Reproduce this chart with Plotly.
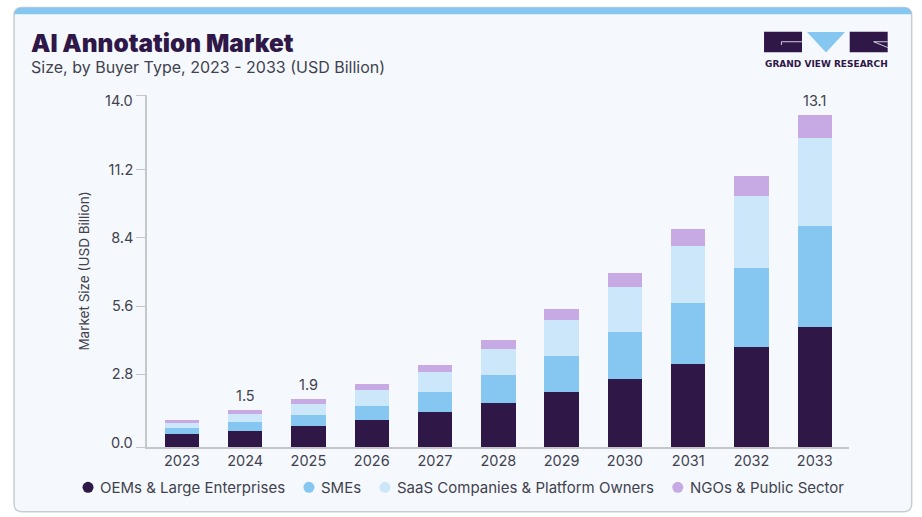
import plotly.graph_objects as go

years = ["2023", "2024", "2025", "2026", "2027", "2028", "2029", "2030", "2031", "2032", "2033"]
oems = [0.50, 0.65, 0.83, 1.07, 1.39, 1.75, 2.19, 2.70, 3.32, 3.99, 4.79]
smes = [0.24, 0.33, 0.45, 0.58, 0.79, 1.11, 1.43, 1.88, 2.42, 3.13, 4.00]
saas = [0.21, 0.33, 0.45, 0.62, 0.79, 1.03, 1.43, 1.78, 2.27, 2.85, 3.49]
ngos = [0.13, 0.16, 0.19, 0.23, 0.31, 0.38, 0.42, 0.56, 0.65, 0.82, 0.94]
total_labels = ["", "1.5", "1.9", "", "", "", "", "", "", "", "13.1"]
tick_positions = [0, 2.9, 5.6, 8.32, 11.02, 14]
tick_labels = ["", "2.8", "5.6", "8.4", "11.2", ""]

names = ["OEMs & Large Enterprises", "SMEs", "SaaS Companies & Platform Owners", "NGOs & Public Sector"]
colors = ["#2f1748", "#86c7f1", "#cbe7f9", "#c7a9e3"]
series = [oems, smes, saas, ngos]

FONT = "Inter"
TEXT = "#42424e"
W, H = 922, 517
L, R, T, B = 147, 849.3, 95, 447.3


# page pixels -> paper coordinates, only used for the card, logo and legend
def px(x):
    return (x - L) / (R - L)


def py(y):
    return (B - y) / (B - T)


def path(points, close=True):
    d = "M" + " L".join(f"{px(x):.5f},{py(y):.5f}" for x, y in points)
    return d + (" Z" if close else "")


def card_path(x0, y0, x1, y1, r):
    return (f"M{px(x0 + r):.5f},{py(y0):.5f} L{px(x1 - r):.5f},{py(y0):.5f} "
            f"Q{px(x1):.5f},{py(y0):.5f} {px(x1):.5f},{py(y0 + r):.5f} "
            f"L{px(x1):.5f},{py(y1 - r):.5f} Q{px(x1):.5f},{py(y1):.5f} {px(x1 - r):.5f},{py(y1):.5f} "
            f"L{px(x0 + r):.5f},{py(y1):.5f} Q{px(x0):.5f},{py(y1):.5f} {px(x0):.5f},{py(y1 - r):.5f} "
            f"L{px(x0):.5f},{py(y0 + r):.5f} Q{px(x0):.5f},{py(y0):.5f} {px(x0 + r):.5f},{py(y0):.5f} Z")


def page_text(text, x, y, size, color=TEXT, anchor="left", weight=400, family=FONT):
    return dict(text=text, x=px(x), y=py(y), xref="paper", yref="paper", xanchor=anchor, yanchor="middle",
                showarrow=False, font=dict(family=family, size=size, color=color, weight=weight))


fig = go.Figure()
for name, values, color in zip(names, series, colors):
    fig.add_trace(go.Bar(x=years, y=values, name=name, marker=dict(color=color, line=dict(width=0)),
                         showlegend=False))

shapes = [
    # card
    dict(type="path", path=card_path(14, 7.5, 912, 512, 8), fillcolor="#f5f9fd",
         line=dict(color="#c9cdd2", width=1.5)),
    dict(type="path", path=(f"M{px(14):.5f},{py(14.3):.5f} L{px(14):.5f},{py(15.5):.5f} Q{px(14):.5f},{py(7.5):.5f} {px(22):.5f},{py(7.5):.5f} "
                            f"L{px(904):.5f},{py(7.5):.5f} Q{px(912):.5f},{py(7.5):.5f} {px(912):.5f},{py(15.5):.5f} L{px(912):.5f},{py(14.3):.5f} Z"),
         fillcolor="#86c7f1", line=dict(width=0)),
    # logo
    dict(type="path", path=path([(764.3, 31.7), (802.3, 31.7), (802.3, 52.3), (764.3, 52.3)]),
         fillcolor="#2f1748", line=dict(width=0)),
    dict(type="path", path=path([(807.3, 32), (845.3, 32), (826.3, 52.5)]),
         fillcolor="#86c7f1", line=dict(width=0)),
    dict(type="path", path=path([(850, 31.7), (888, 31.7), (888, 52.3), (850, 52.3)]),
         fillcolor="#2f1748", line=dict(width=0)),
    dict(type="path", path=path([(781.7, 45), (781.7, 41.7), (802.3, 41.7)], close=False),
         line=dict(color="#f5f9fd", width=0.8)),
    dict(type="path", path=path([(888, 41.7), (874, 41.7), (888, 47.5)], close=False),
         line=dict(color="#f5f9fd", width=0.8)),
]

annotations = [
    page_text("AI Annotation Market", 29, 43, 24.4, color="#2f1748", weight=900),
    page_text("Size, by Buyer Type, 2023 - 2033 (USD Billion)", 29, 66.5, 16),
    page_text("GRAND VIEW RESEARCH", 826.3, 63.5, 9, color="#2f1748", anchor="center", weight=700,
              family="DejaVu Sans"),
    # the end labels sit inside the axis span rather than level with their ticks
    page_text("14.0", 135, 101, 14.5, anchor="right"),
    page_text("0.0", 135, 443, 14.5, anchor="right"),
]

# totals printed above a few bars, x is the category index here
totals = [sum(v) for v in zip(*series)]
for i, (total, label) in enumerate(zip(totals, total_labels)):
    if label:
        annotations.append(dict(text=label, x=i, y=total, xref="x", yref="y", yanchor="bottom", showarrow=False,
                                yshift=4, font=dict(family=FONT, size=14.5, color=TEXT)))

# legend row, drawn so the round markers sit close to their text
legend_marker_x = [88, 309, 385, 678]
for name, color, mx in zip(names, colors, legend_marker_x):
    shapes.append(dict(type="circle", x0=px(mx - 5.5), x1=px(mx + 5.5), y0=py(482.2), y1=py(493.2),
                       fillcolor=color, line=dict(width=0)))
    annotations.append(page_text(name, mx + 10, 487.7, 15))

for s in shapes:
    s.update(xref="paper", yref="paper", layer="below")

fig.update_layout(
    width=W, height=H,
    barmode="stack", bargap=0.457,
    margin=dict(l=L, r=W - R, t=T, b=H - B, pad=0),
    paper_bgcolor="white", plot_bgcolor="rgba(0,0,0,0)",
    showlegend=False,
    shapes=shapes, annotations=annotations,
    font=dict(family=FONT, color=TEXT),
)
fig.update_xaxes(type="category", range=[-0.55, 10.54], showgrid=False, ticks="", showline=True,
                 linecolor="#c4c6c9", linewidth=1.5, tickfont=dict(family=FONT, size=14.5, color=TEXT), zeroline=False)
fig.update_yaxes(range=[0, 14], tickmode="array", tickvals=tick_positions, ticktext=tick_labels, showgrid=False,
                 zeroline=False, ticks="outside", ticklen=9, tickcolor="#c4c6c9", tickwidth=1, showline=True,
                 linecolor="#c4c6c9", linewidth=1.5, tickfont=dict(family=FONT, size=14.5, color=TEXT),
                 title=dict(text="Market Size (USD Billion)", font=dict(family=FONT, size=13.5, color=TEXT), standoff=16))

fig.write_html("out.html", config=dict(displayModeBar=False),
               post_script="document.body.style.margin='0';document.body.style.overflow='hidden';")
